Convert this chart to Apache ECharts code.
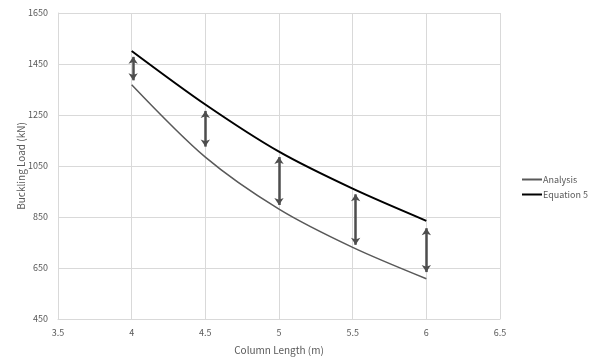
<!DOCTYPE html>
<html><head><meta charset="utf-8">
<script src="https://cdn.jsdelivr.net/npm/echarts@6/dist/echarts.min.js"></script>
<style>html,body{margin:0;padding:0;background:#fff}#c{width:596px;height:360px}</style>
</head><body><div id="c"></div>
<script>
const lengths = [4, 4.5, 5, 5.5, 6];
const analysis = [1369, 1085, 881, 731, 608];
const equation5 = [1501, 1291, 1106, 961, 835];
const arrowX = [4.01, 4.5, 5.0, 5.52, 6.0];
const arrowTop = [1478, 1266, 1085, 939, 806];
const arrowBottom = [1386, 1126, 897, 741, 634];
const yTicks = [450, 650, 850, 1050, 1250, 1450, 1650];

const font = '"Noto Sans CJK KR", "Open Sans", sans-serif';
const chart = echarts.init(document.getElementById('c'), null, {renderer: 'canvas'});
const arrowData = arrowX.map((x, i) => [
  {coord: [x, arrowTop[i]], symbol: 'arrow'},
  {coord: [x, arrowBottom[i]], symbol: 'arrow'}
]);
chart.setOption({
  animation: false,
  grid: {left: 58, right: 96, top: 13, bottom: 38, containLabel: false},
  legend: {
    orient: 'vertical', left: 517, top: 170, itemWidth: 20, itemHeight: 2, itemGap: 6,
    icon: 'rect',
    textStyle: {fontFamily: font, fontSize: 9, color: '#595959', padding: [0, 0, 0, -4]},
    data: [
      {name: 'Analysis', itemStyle: {color: '#595959'}},
      {name: 'Equation 5', itemStyle: {color: '#000000'}}
    ]
  },
  xAxis: {
    type: 'value', min: 3.5, max: 6.5, interval: 0.5,
    name: 'Column Length (m)', nameLocation: 'middle', nameGap: 26,
    nameTextStyle: {fontFamily: font, fontSize: 10, color: '#595959'},
    axisLine: {lineStyle: {color: '#d9d9d9'}},
    axisTick: {show: false},
    axisLabel: {fontFamily: font, fontSize: 9, color: '#595959', margin: 9},
    splitLine: {lineStyle: {color: '#d9d9d9'}}
  },
  yAxis: {
    type: 'value', min: 450, max: 1650,
    name: 'Buckling Load (kN)', nameLocation: 'middle', nameGap: 32, nameRotate: 90,
    nameMoveOverlap: false,
    nameTextStyle: {fontFamily: font, fontSize: 10, color: '#595959'},
    axisLine: {show: true, lineStyle: {color: '#d9d9d9'}},
    axisTick: {show: false, customValues: yTicks},
    axisLabel: {fontFamily: font, fontSize: 9, color: '#595959', margin: 10, customValues: yTicks,
      formatter: v => String(v)},
    splitLine: {lineStyle: {color: '#d9d9d9'}}
  },
  series: [
    {
      name: 'Analysis', type: 'line', symbol: 'none', smooth: 0.3,
      data: lengths.map((x, i) => [x, analysis[i]]),
      lineStyle: {color: '#595959', width: 1.5}, itemStyle: {color: '#595959'},
      z: 3
    },
    {
      name: 'Equation 5', type: 'line', symbol: 'none', smooth: 0.3,
      data: lengths.map((x, i) => [x, equation5[i]]),
      lineStyle: {color: '#000000', width: 2}, itemStyle: {color: '#000000'},
      z: 3,
      markLine: {
        silent: true, symbolSize: [7, 7],
        label: {show: false},
        lineStyle: {color: '#4d4d4d', width: 2.5, type: 'solid'},
        data: arrowData
      }
    }
  ]
});
</script></body></html>
